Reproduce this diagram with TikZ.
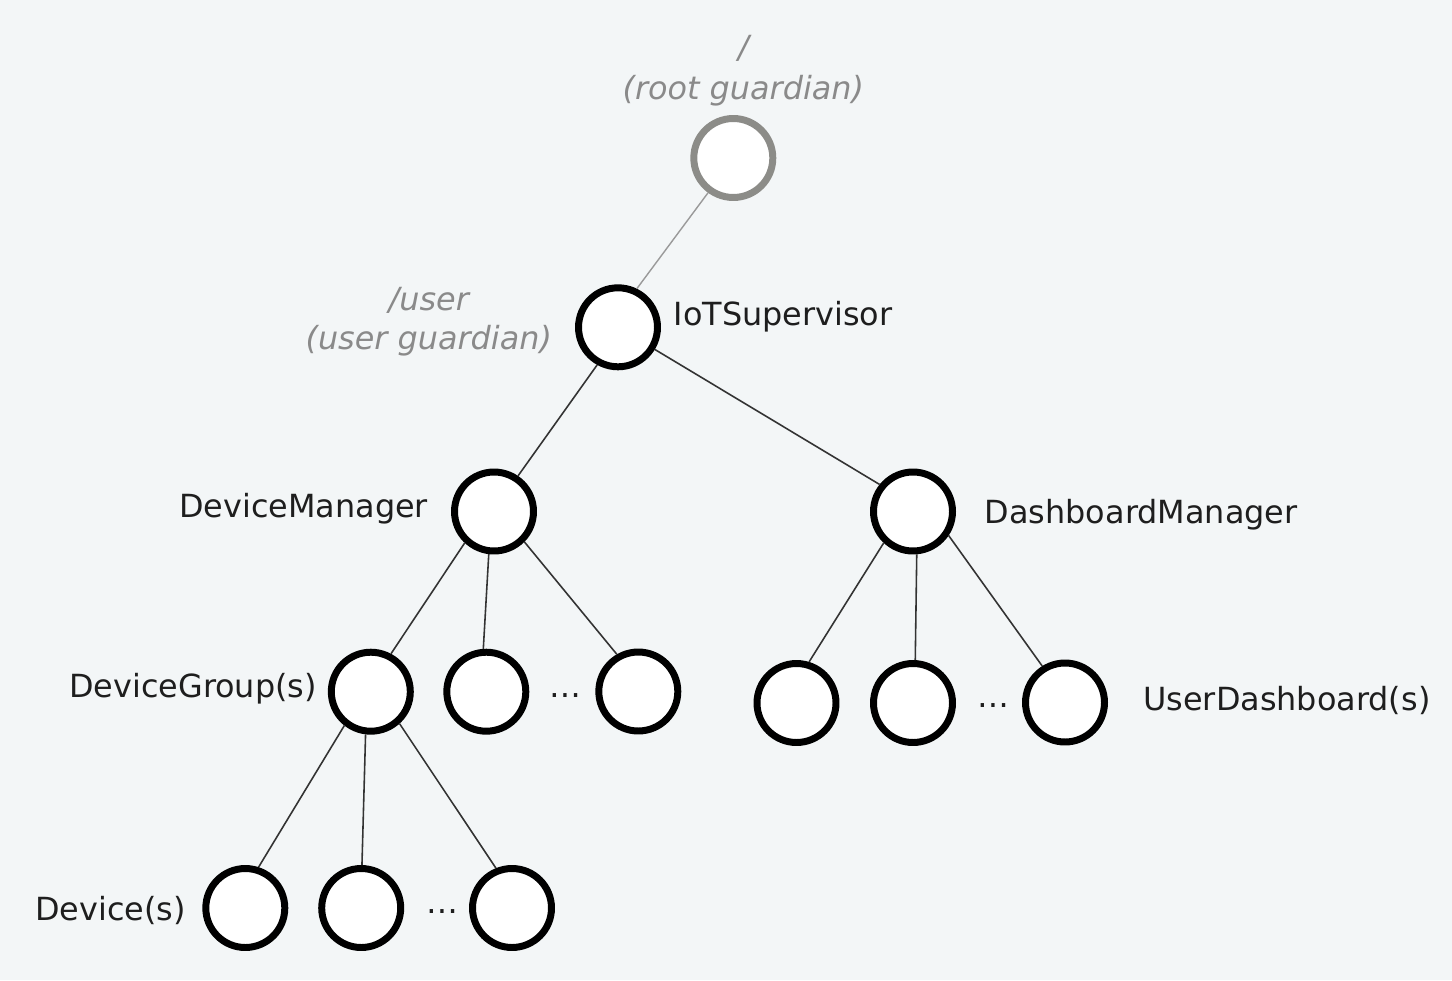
\documentclass[tikz,border=0pt]{standalone}
\usepackage{fontspec}
\setmainfont{DejaVu Sans}[ItalicFont={DejaVu Sans Oblique}]
\definecolor{bg}{HTML}{F3F6F7}
\definecolor{txt}{HTML}{1E1E1E}
\definecolor{gtxt}{HTML}{8A8A8A}
\definecolor{ringgray}{HTML}{8C8C88}
\definecolor{edgecol}{HTML}{333333}
\definecolor{gedgecol}{HTML}{9A9A9A}
\begin{document}
\begin{tikzpicture}[x=0.02cm,y=-0.02cm,
  actor/.style={circle,draw=black,fill=white,line width=3.97pt,minimum size=1.58cm,inner sep=0pt},
  guardian/.style={actor,draw=ringgray},
  edge/.style={draw=edgecol,line width=0.9pt},
  gedge/.style={draw=gedgecol,line width=0.8pt},
  lbl/.style={font=\fontsize{18.14}{22}\selectfont,text=txt,inner sep=0pt,anchor=base west},
  glbl/.style={font=\fontsize{18.14}{22}\selectfont\itshape,text=gtxt,inner sep=0pt,anchor=base},
  dotsnode/.style={font=\fontsize{18.14}{22}\selectfont,text=txt,inner sep=0pt}]
\fill[bg] (0,0) rectangle (1452,980);
\useasboundingbox (0,0) rectangle (1452,980);

% actors
\node[guardian] (root) at (733.3,158) {};
\node[actor] (iot) at (618,327.3) {};
\node[actor] (dm) at (494,511.5) {};
\node[actor] (dbm) at (913,511.5) {};
\node[actor] (dg) at (370.8,691.7) {};
\node[actor] (m2) at (486.3,691.7) {};
\node[actor] (m3) at (638.3,691.5) {};
\node[actor] (u1) at (796.5,703) {};
\node[actor] (u2) at (913,703) {};
\node[actor] (u3) at (1065,702.5) {};
\node[actor] (d1) at (245.3,908) {};
\node[actor] (d2) at (361.2,908) {};
\node[actor] (d3) at (512,908) {};

% connectors
\draw[gedge] (root.234) -- (iot.64);
\draw[edge] (iot.241) -- (dm.56);
\draw[edge] (iot.-31) -- (dbm.141);
\draw[edge] (dm.227) -- (dg.62);
\draw[edge] (dm.263) -- (m2.94);
\draw[edge] (dm.-45) -- (m3.120);
\draw[edge] (dbm.227) -- (u1.73);
\draw[edge] (dbm.275) -- (u2.87);
\draw[edge] (dbm.-34) -- (u3.122);
\draw[edge] (dg.232) -- (d1.72);
\draw[edge] (dg.263) -- (d2.89);
\draw[edge] (dg.-48) -- (d3.112);

% ellipses
\node[dotsnode] (e1) at (565.5,696) {…};
\node[dotsnode] (e2) at (993.3,706) {…};
\node[dotsnode] (e3) at (442,912) {…};

% labels
\node[glbl] (rootpath) at (743.5,59) {/};
\node[glbl] (rootname) at (743.3,99) {(root guardian)};
\node[glbl] (userpath) at (428.8,310) {/user};
\node[glbl] (username) at (428.8,349.5) {(user guardian)};
\node[lbl] (liot) at (673.5,325) {IoTSupervisor};
\node[lbl] (ldm) at (179,517.3) {DeviceManager};
\node[lbl] (ldbm) at (984.5,523.3) {DashboardManager};
\node[lbl] (ldg) at (69,697.3) {DeviceGroup(s)};
\node[lbl] (lud) at (1143,710) {UserDashboard(s)};
\node[lbl] (ldev) at (35,920) {Device(s)};
\end{tikzpicture}
\end{document}
